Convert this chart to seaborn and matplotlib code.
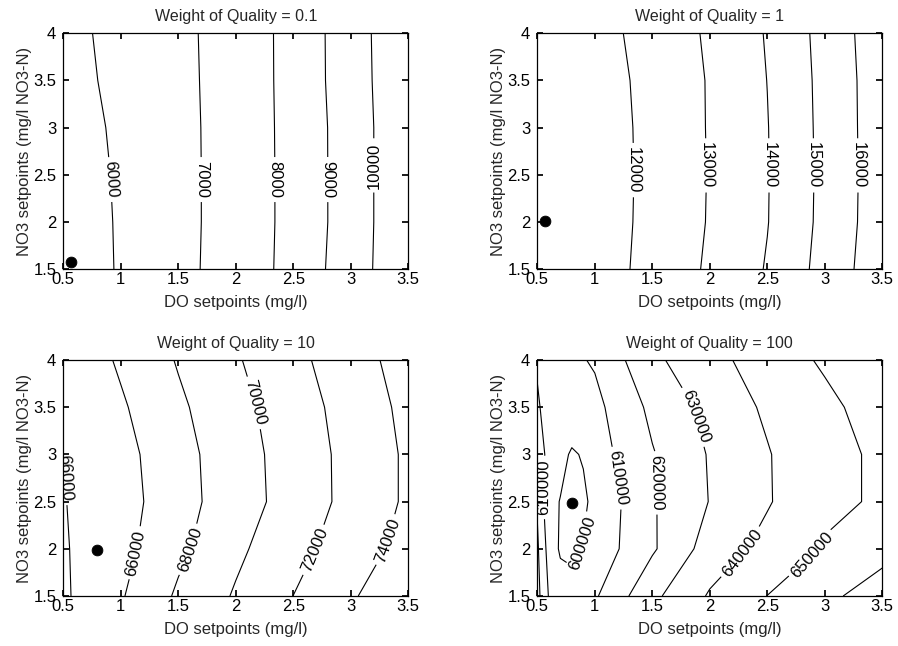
import numpy as np
import matplotlib
matplotlib.use("Agg")
import matplotlib.pyplot as plt
import seaborn as sns
from matplotlib.ticker import FormatStrFormatter

# grid of the setpoints
do_grid = [0.5, 0.75, 1.0, 1.5, 2.0, 2.5, 3.0, 3.5]
do_grid_fine = [0.5, 0.6, 0.7, 0.8, 0.9, 1.0, 1.5, 2.0, 2.5, 3.0, 3.5]
no3_grid = [1.5, 2.0, 2.5, 3.0, 3.5, 4.0]

# cost surfaces, one row per NO3 setpoint
cost_w01 = [
    [5550, 5747, 6080, 6706, 7480, 8268, 9575, 10693],
    [5550, 5743, 6100, 6693, 7460, 8254, 9497, 10755],
    [5560, 5769, 6130, 6693, 7460, 8254, 9497, 10755],
    [5600, 5835, 6180, 6700, 7465, 8260, 9500, 10750],
    [5700, 5938, 6250, 6720, 7480, 8268, 9575, 10720],
    [5750, 5995, 6290, 6740, 7490, 8268, 9590, 10740],
]
cost_w1 = [
    [11300, 11420, 11636, 12231, 13146, 14066, 15345, 16634],
    [11210, 11290, 11480, 12265, 13060, 13970, 15260, 16560],
    [11200, 11280, 11465, 12252, 13046, 13956, 15241, 16545],
    [11210, 11290, 11480, 12265, 13060, 13970, 15260, 16560],
    [11350, 11500, 11755, 12155, 13078, 14010, 15279, 16566],
    [11350, 11500, 11708, 12297, 13146, 14066, 15330, 16620],
]
cost_w10 = [
    [66292, 65200, 65823, 68286, 70195, 72010, 73770, 75539],
    [66310, 64900, 65392, 67565, 69600, 71356, 73017, 74656],
    [66136, 65000, 65167, 67250, 69060, 70821, 72576, 74300],
    [66018, 65100, 65333, 67330, 69120, 70880, 72576, 74300],
    [65700, 65400, 65751, 67667, 69392, 71075, 72776, 74500],
    [65700, 65320, 66269, 68143, 69811, 71471, 73146, 74827],
]
cost_w100 = [
    [623150, 609452, 605000, 603500, 604500, 608800, 627700, 641000, 650100, 657600, 665100],
    [621538, 606153, 598740, 598000, 600500, 603600, 618700, 634300, 643077, 650769, 656500],
    [619000, 602636, 599707, 596000, 598500, 602250, 619100, 630308, 639177, 648123, 651056],
    [614000, 607846, 602500, 599000, 600667, 605500, 619300, 630756, 639335, 648085, 651077],
    [611500, 605250, 604000, 606000, 606800, 607365, 622270, 633006, 641598, 647773, 654323],
    [608600, 606500, 606000, 607000, 609592, 611000, 628000, 636700, 644991, 651252, 655500],
]

levels_w01 = [6000, 7000, 8000, 9000, 10000]
levels_w1 = [12000, 13000, 14000, 15000, 16000]
levels_w10 = [66000, 68000, 70000, 72000, 74000]
levels_w100 = [600000, 610000, 620000, 630000, 640000, 650000, 660000]

# optimum found for each weight
opt_do = [0.57, 0.57, 0.79, 0.80]
opt_no3 = [1.58, 2.01, 1.99, 2.49]

weights = ["0.1", "1", "10", "100"]

# where the inline labels sit
label_pos = [
    [(0.91, 2.45), (1.70, 2.45), (2.34, 2.45), (2.80, 2.45), (3.21, 2.6)],
    [(1.34, 2.55), (1.975, 2.6), (2.515, 2.6), (2.905, 2.6), (3.29, 2.6)],
    [(0.52, 2.75), (1.15, 1.95), (1.58, 2.0), (2.17, 3.55), (2.66, 2.0), (3.29, 2.1)],
    [(0.56, 2.65), (0.86, 2.07), (1.2, 2.75), (1.55, 2.7), (1.86, 3.4), (2.27, 1.97), (2.92, 1.9)],
]

xticks = [0.5, 1, 1.5, 2, 2.5, 3, 3.5]
yticks = [1.5, 2, 2.5, 3, 3.5, 4]

sns.set_theme(style="ticks", rc={
    "xtick.direction": "in", "ytick.direction": "in",
    "xtick.top": True, "ytick.right": True,
    "xtick.major.size": 4, "ytick.major.size": 4,
    "axes.linewidth": 0.9, "axes.edgecolor": "black",
})
plt.rcParams["font.family"] = ["Liberation Sans", "DejaVu Sans"]

fig, axes = plt.subplots(2, 2, figsize=(8.98, 6.46), dpi=100)
fig.subplots_adjust(left=0.0705, right=0.9825, bottom=0.0774, top=0.9485,
                    wspace=0.374, hspace=0.385)

panels = [
    (do_grid, cost_w01, levels_w01),
    (do_grid, cost_w1, levels_w1),
    (do_grid, cost_w10, levels_w10),
    (do_grid_fine, cost_w100, levels_w100),
]

for i, ax in enumerate(axes.flat):
    xg, z, lev = panels[i]
    X, Y = np.meshgrid(xg, no3_grid)
    cs = ax.contour(X, Y, np.array(z), levels=lev, colors="black", linewidths=0.8)
    lab_levels = lev[:6] if i == 3 else lev
    ax.clabel(cs, levels=lab_levels, inline=True, fmt="%d", fontsize=12,
              inline_spacing=4, manual=label_pos[i])
    sns.scatterplot(x=[opt_do[i]], y=[opt_no3[i]], ax=ax, color="black",
                    s=60, edgecolor="black", zorder=5, legend=False)
    ax.set_xlim(0.5, 3.5)
    ax.set_ylim(1.5, 4)
    ax.set_xticks(xticks)
    ax.set_yticks(yticks)
    ax.xaxis.set_major_formatter(FormatStrFormatter("%g"))
    ax.yaxis.set_major_formatter(FormatStrFormatter("%g"))
    ax.tick_params(labelsize=12, colors="black")
    ax.tick_params(axis="x", pad=2)
    ax.tick_params(axis="y", pad=5)
    ax.set_xlabel("DO setpoints (mg/l)", fontsize=12, labelpad=6)
    ax.set_ylabel("NO3 setpoints (mg/l NO3-N)", fontsize=12, labelpad=1)
    ax.set_title("Weight of Quality = " + weights[i], fontsize=11.5, pad=9)

fig.savefig("out.png", dpi=100)
